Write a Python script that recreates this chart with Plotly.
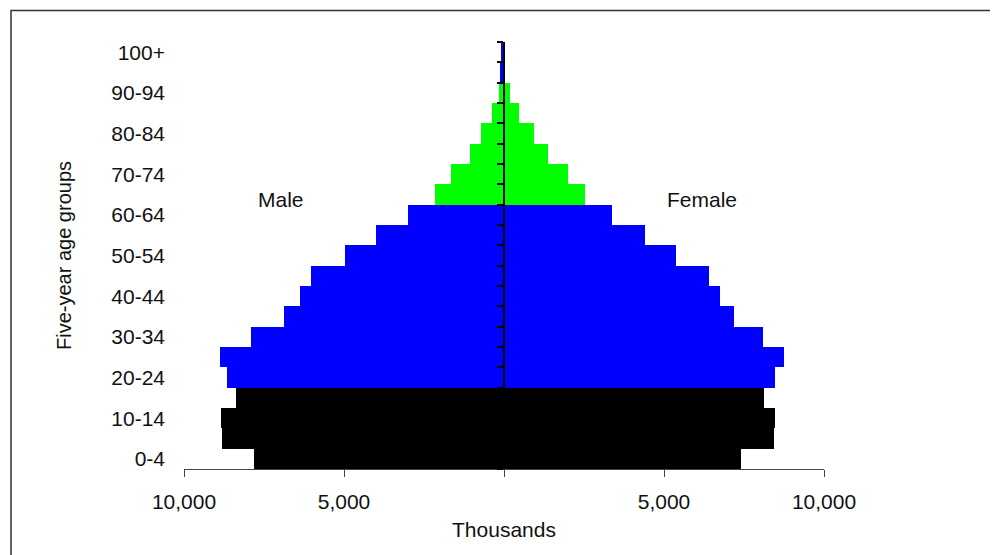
import plotly.graph_objects as go

age_groups = ["0-4", "5-9", "10-14", "15-19", "20-24", "25-29", "30-34", "35-39",
              "40-44", "45-49", "50-54", "55-59", "60-64", "65-69", "70-74",
              "75-79", "80-84", "85-89", "90-94", "95-99", "100+"]
male = [7800, 8820, 8850, 8390, 8670, 8890, 7920, 6890, 6390, 6040, 4980,
        4010, 3000, 2170, 1670, 1070, 730, 390, 150, 110, 80]
female = [7410, 8440, 8470, 8130, 8470, 8750, 8090, 7190, 6750, 6410, 5370,
          4410, 3380, 2520, 1990, 1370, 930, 460, 190, 30, 10]
shown_labels = age_groups[::2]
x_tickvals = [-10000, -5000, 0, 5000, 10000]
x_ticktext = ["10,000", "5,000", "", "5,000", "10,000"]

# styles: colour by broad age band
BLACK, BLUE, GREEN = "#000000", "#0000FF", "#00FF00"
bar_colors = [BLACK] * 4 + [BLUE] * 9 + [GREEN] * 6 + [BLUE] * 2

FONT = "Liberation Sans, Arial, sans-serif"

fig = go.Figure()
fig.add_trace(go.Bar(
    y=age_groups, x=[-v for v in male], orientation="h",
    marker=dict(color=bar_colors, line=dict(width=0)),
    name="Male", showlegend=False, yaxis="y",
    customdata=male, hovertemplate="%{y}: %{customdata}<extra>Male</extra>",
))
fig.add_trace(go.Bar(
    y=age_groups, x=female, orientation="h",
    marker=dict(color=bar_colors, line=dict(width=0)),
    name="Female", showlegend=False, yaxis="y2",
    hovertemplate="%{y}: %{x}<extra>Female</extra>",
))

fig.update_layout(
    width=990, height=547,
    margin=dict(l=176, r=174, t=34, b=86),
    paper_bgcolor="white", plot_bgcolor="white",
    barmode="overlay", bargap=0,
    font=dict(family=FONT, color="#111111", size=21),
    xaxis=dict(
        range=[-10000, 10000], tickvals=x_tickvals, ticktext=x_ticktext,
        showgrid=False, zeroline=False, showline=True, linecolor="#444444",
        linewidth=1.2, ticks="outside", ticklen=7, tickcolor="#444444",
        tickfont=dict(size=21), ticklabelstandoff=7,
        title=dict(text="Thousands", font=dict(size=21), standoff=10),
        fixedrange=True,
    ),
    yaxis=dict(
        type="category", categoryorder="array", categoryarray=age_groups,
        range=[-0.5, len(age_groups) - 0.5],
        tickvals=shown_labels, showgrid=False, zeroline=False, showline=False,
        ticks="", tickfont=dict(size=21), ticklabelstandoff=18,
        title=dict(text="Five-year age groups", font=dict(size=20), standoff=34),
        fixedrange=True,
    ),
    yaxis2=dict(
        type="category", categoryorder="array", categoryarray=age_groups,
        range=[-0.5, len(age_groups) - 0.5],
        overlaying="y", anchor="free", position=0.5,
        showticklabels=False, showgrid=False, zeroline=False,
        showline=True, linecolor="#000000", linewidth=2,
        ticks="outside", tickson="boundaries", ticklen=6, tickcolor="#000000",
        tickwidth=1.5, fixedrange=True,
    ),
    annotations=[
        dict(text="Male", xref="paper", yref="paper", x=0.152, y=0.631,
             xanchor="center", yanchor="middle",
             showarrow=False, font=dict(size=21)),
        dict(text="Female", xref="paper", yref="paper", x=0.809, y=0.631,
             xanchor="center", yanchor="middle",
             showarrow=False, font=dict(size=21)),
    ],
    shapes=[
        dict(type="rect", xref="paper", yref="paper",
             x0=-0.2703, x1=1.264, y0=-0.3, y1=1.0738,
             line=dict(color="#333333", width=1.5), layer="below"),
    ],
)

fig.write_html("out.html")
